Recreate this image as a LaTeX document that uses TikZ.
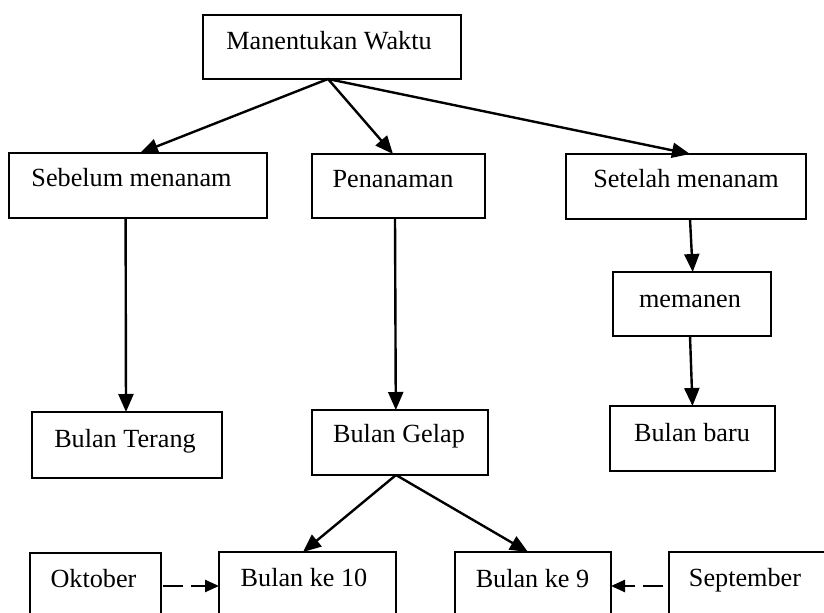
\documentclass[tikz,border=0pt]{standalone}
\usepackage{fontspec}
\setmainfont{Liberation Serif}
\usetikzlibrary{arrows.meta}
% framed box: name, left, top, right, bottom (in drawing units, y grows downward)
\newcommand{\pbox}[5]{%
  \node[box, minimum width={(#4-#2)*0.5pt}, minimum height={(#5-#3)*0.5pt}]
    (#1) at ({(#2+#4)/2},{(#3+#5)/2}) {};}
\begin{document}
\begin{tikzpicture}[x=0.5pt,y=-0.5pt,
  box/.style={draw, line width=0.9pt, inner sep=0pt, outer sep=0pt},
  lbl/.style={anchor=base, inner sep=0pt, font=\fontsize{13.1}{15}\selectfont},
  link/.style={line width=1.2pt, -{Triangle[length=9pt,width=7.5pt]}},
  hint/.style={line width=1.2pt, dash pattern=on 10pt off 4pt,
               -{Triangle[length=7pt,width=6pt]}}]
  \clip (0,0) rectangle (824,613);

  % boxes
  \pbox{top}{203}{15}{461}{79}
  \pbox{seb}{9}{153}{267}{218}
  \pbox{pen}{312}{154}{485}{218}
  \pbox{set}{566}{154}{806}{219}
  \pbox{mem}{613}{272}{771}{336}
  \pbox{baru}{610}{406}{775}{471}
  \pbox{terang}{32}{412}{222}{478}
  \pbox{gelap}{312}{410}{488}{475}
  \pbox{okt}{30}{553}{161}{640}
  \pbox{k10}{219}{552}{396}{640}
  \pbox{k9}{455}{552}{611}{640}
  \pbox{sep}{669}{552}{826}{640}

  % labels
  \node[lbl] (topT)    at (329,50)   {Manentukan Waktu};
  \node[lbl] (sebT)    at (131.5,187) {Sebelum menanam};
  \node[lbl] (penT)    at (393,188)  {Penanaman};
  \node[lbl] (setT)    at (686,188)  {Setelah menanam};
  \node[lbl] (memT)    at (690,308)  {memanen};
  \node[lbl] (baruT)   at (692,442)  {Bulan baru};
  \node[lbl] (terangT) at (125,448)  {Bulan Terang};
  \node[lbl] (gelapT)  at (399,443)  {Bulan Gelap};
  \node[lbl] (k10T)    at (304,587)  {Bulan ke 10};
  \node[lbl] (oktT)    at (93.5,588) {Oktober};
  \node[lbl] (k9T)     at (532.5,588) {Bulan ke 9};
  \node[lbl] (sepT)    at (745,587)  {September};

  % connectors
  \coordinate (apex) at ([xshift=-2pt]top.south);
  \draw[link] (apex) -- ([xshift=1pt]seb.north);
  \draw[link] (apex) -- ([xshift=-2.75pt]pen.north);
  \draw[link] (apex) -- ([xshift=2pt]set.north);

  \draw[link] ([xshift=-6.2pt]seb.south) -- ([xshift=-0.5pt]terang.north);
  \draw[link] ([xshift=-1.75pt]pen.south) -- ([xshift=-2.1pt]gelap.north);
  \draw[link] ([xshift=2pt]set.south) -- ([xshift=0.35pt]mem.north);
  \draw[link] ([xshift=-1pt]mem.south) -- (baru.north);

  \coordinate (split) at ([xshift=-2pt]gelap.south);
  \draw[link] (split) -- ([xshift=-2.25pt]k10.north);
  \draw[link] (split) -- ([xshift=-2.5pt]k9.north);

  \coordinate (dashrow) at (0,586);
  \draw[hint] ([xshift=1pt]okt.east |- dashrow) -- (k10.west |- dashrow);
  \draw[hint] ([xshift=-3pt]sep.west |- dashrow) -- (k9.east |- dashrow);
\end{tikzpicture}
\end{document}
